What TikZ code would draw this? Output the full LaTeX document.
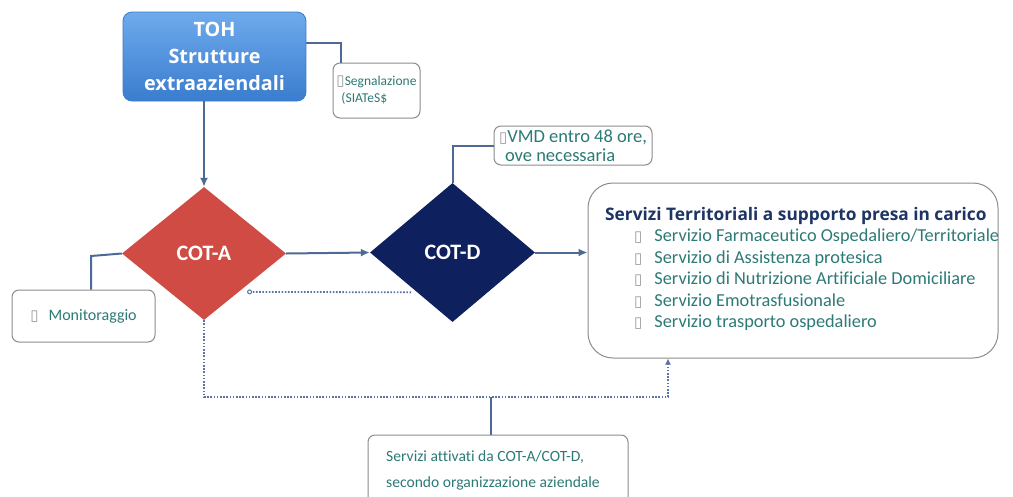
\documentclass[tikz,border=0pt]{standalone}
\usepackage{fontspec}
\setmainfont{Carlito}[Ligatures=NoCommon]
\newfontfamily\symfont{DejaVu Sans}
\newfontfamily\widebold{Open Sans}[BoldFont={* Bold}]
\usetikzlibrary{shapes.geometric,arrows.meta}

\definecolor{linkblue}{RGB}{77,106,150}
\definecolor{dotblue}{RGB}{88,116,170}
\definecolor{tealtext}{RGB}{44,122,118}
\definecolor{titlenavy}{RGB}{30,52,100}
\definecolor{cotared}{RGB}{207,75,68}
\definecolor{cotdnavy}{RGB}{14,33,94}
\definecolor{tohtop}{RGB}{110,170,236}
\definecolor{tohbot}{RGB}{58,124,206}
\definecolor{boxgray}{RGB}{140,140,140}

% empty-box bullet used in the text boxes
\newcommand{\bxmark}{{\symfont\fontsize{15}{15}\selectfont\color{gray!80}▯}}

\tikzset{
  conn/.style={draw=linkblue, line width=2pt},
  arrowconn/.style={conn, -{Latex[length=9pt,width=8pt]}},
  dotconn/.style={draw=dotblue, line width=1.8pt, dash pattern=on 1.6pt off 1.6pt},
  notebox/.style={draw=boxgray, line width=1pt, rounded corners=7pt, fill=white,
    text=tealtext, align=left, inner sep=0pt},
  decision/.style={diamond, inner sep=0pt, text=white,
    font=\bfseries\fontsize{22}{24}\selectfont},
}

\begin{document}
\begin{tikzpicture}[x=1pt,y=-1pt]
\useasboundingbox (0,0) rectangle (1013,496);
\fill[white] (0,0) rectangle (1013,496);

% source box
\node[rectangle, rounded corners=9pt, minimum width=183pt, minimum height=89pt,
      top color=tohtop, bottom color=tohbot, draw=tohbot, line width=0.8pt,
      text=white, align=center, font=\widebold\bfseries\fontsize{19.8}{27}\selectfont]
      (toh) at (214.5,56.5) {TOH\\Strutture\\extraaziendali};

% decision nodes
\node[decision, fill=cotared, minimum width=164pt, minimum height=133pt]
      (cota) at (204,253.5) {COT-A};
\node[decision, fill=cotdnavy, minimum width=165pt, minimum height=139pt]
      (cotd) at (452.5,252.5) {COT-D};

% note boxes
\node[notebox, minimum width=87pt, minimum height=55pt,
      font=\fontsize{13.5}{17}\selectfont]
      (seg) at (376.5,90.5) {\bxmark Segnalazione\\\hspace*{5pt}(SIATeS\$};
\node[notebox, minimum width=158pt, minimum height=39pt,
      font=\fontsize{18.5}{19}\selectfont]
      (vmd) at (573,145.5) {\bxmark VMD entro 48 ore,\\\hspace*{6pt}ove necessaria};
\node[notebox, minimum width=143pt, minimum height=52pt,
      font=\fontsize{16}{18}\selectfont]
      (mon) at (83.5,316) {\bxmark\hspace*{10pt}Monitoraggio};
\node[notebox, minimum width=260pt, minimum height=70pt,
      font=\fontsize{15.6}{26}\selectfont]
      (att) at (498,470) {Servizi attivati da COT-A/COT-D,\hspace*{10pt}\\secondo organizzazione aziendale\hspace*{10pt}};

% services box
\node[draw=boxgray, line width=1pt, rounded corners=25pt, fill=white,
      minimum width=410pt, minimum height=175pt] (serv) at (793,270.5) {};
\node[anchor=north west, inner sep=0pt, align=left, text=tealtext,
      font=\fontsize{18.3}{21.5}\selectfont] (servtxt) at (605,207)
  {{\color{titlenavy}\widebold\bfseries\fontsize{17.3}{21.5}\selectfont Servizi Territoriali a supporto presa in carico}\\
   \hspace*{29pt}\bxmark\hspace*{12pt}Servizio Farmaceutico Ospedaliero/Territoriale\\
   \hspace*{29pt}\bxmark\hspace*{12pt}Servizio di Assistenza protesica\\
   \hspace*{29pt}\bxmark\hspace*{12pt}Servizio di Nutrizione Artificiale Domiciliare\\
   \hspace*{29pt}\bxmark\hspace*{12pt}Servizio Emotrasfusionale\\
   \hspace*{29pt}\bxmark\hspace*{12pt}Servizio trasporto ospedaliero};

% bend points of the elbow connectors
\coordinate (kseg) at (341,43);
\coordinate (kmon) at (91,256);
\coordinate (kbot) at (668,397);
\coordinate (katt) at (491,397);

% solid connectors
\draw[arrowconn] (toh.south -| cota.north) -- (cota.north);
\draw[conn] (toh.east |- kseg) -- (kseg) -- (kseg |- seg.north);
\draw[conn] (cota.west) -- (kmon) -- (kmon |- mon.north);
\draw[arrowconn] (cota.east) -- (cotd.west);
\draw[conn] (cotd.north) |- (vmd.west);
\draw[arrowconn] (cotd.east) -- (cotd.east -| serv.west);

% dotted connectors
\draw[dotconn, -{Circle[open,length=5pt,width=5pt,line width=1pt]}]
      ([yshift=-5pt]cotd.south west) -- ([yshift=-5pt,xshift=2pt]cota.south east);
\draw[dotconn, -{Latex[length=6pt,width=6pt]}]
      (cota.south) |- (kbot) -- (kbot |- serv.south);
\draw[conn, line width=1.6pt] (katt) -- (katt |- att.north);
\end{tikzpicture}
\end{document}
